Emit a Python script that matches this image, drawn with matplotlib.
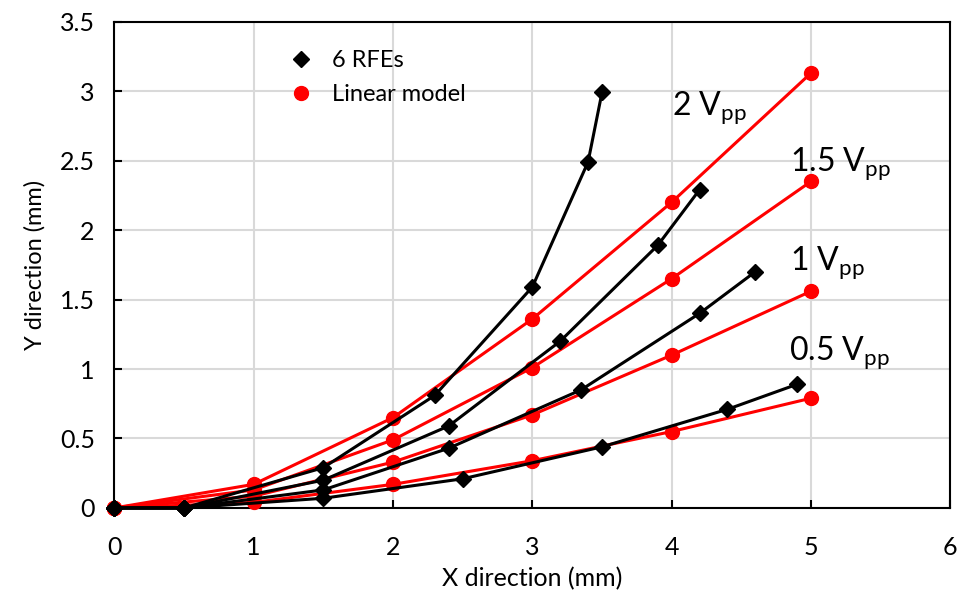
import matplotlib
matplotlib.use("Agg")
import matplotlib.pyplot as plt
from matplotlib.lines import Line2D

# linear model (red), one row per drive voltage
model_x = [0, 1, 2, 3, 4, 5]
model_2v = [0, 0.17, 0.65, 1.36, 2.20, 3.13]
model_15v = [0, 0.13, 0.49, 1.01, 1.65, 2.35]
model_1v = [0, 0.085, 0.33, 0.67, 1.10, 1.56]
model_05v = [0, 0.04, 0.17, 0.34, 0.55, 0.79]

# measured trajectories of the 6 RFEs (black)
rfe_2v_x = [0, 0.5, 1.5, 2.3, 3.0, 3.4, 3.5]
rfe_2v_y = [0, 0, 0.29, 0.81, 1.59, 2.49, 2.99]
rfe_15v_x = [0, 0.5, 1.5, 2.4, 3.2, 3.9, 4.2]
rfe_15v_y = [0, 0, 0.20, 0.59, 1.20, 1.89, 2.29]
rfe_1v_x = [0, 0.5, 1.5, 2.4, 3.35, 4.2, 4.6]
rfe_1v_y = [0, 0, 0.13, 0.43, 0.85, 1.40, 1.70]
rfe_05v_x = [0, 0.5, 1.5, 2.5, 3.5, 4.4, 4.9]
rfe_05v_y = [0, 0, 0.07, 0.21, 0.44, 0.71, 0.89]

labels = [r"2 V$_{\mathrm{pp}}$", r"1.5 V$_{\mathrm{pp}}$",
          r"1 V$_{\mathrm{pp}}$", r"0.5 V$_{\mathrm{pp}}$"]
label_pos = [(4.00, 2.82), (4.85, 2.42), (4.85, 1.71), (4.84, 1.06)]

plt.rcParams['font.family'] = ['Lato', 'DejaVu Sans']
plt.rcParams['mathtext.fontset'] = 'custom'
plt.rcParams['mathtext.rm'] = 'Lato'

fig = plt.figure(figsize=(9.6, 6.08), dpi=100)
ax = fig.add_axes([0.119, 0.1645, 0.871, 0.8])

for ys in [model_2v, model_15v, model_1v, model_05v]:
    ax.plot(model_x, ys, color='#ff0000', lw=2.2, marker='o', ms=10,
            clip_on=False, zorder=3)

for xs, ys in [(rfe_2v_x, rfe_2v_y), (rfe_15v_x, rfe_15v_y),
               (rfe_1v_x, rfe_1v_y), (rfe_05v_x, rfe_05v_y)]:
    ax.plot(xs, ys, color='black', lw=2.2, marker='D', ms=8.5,
            clip_on=False, zorder=4)

for txt, (tx, ty) in zip(labels, label_pos):
    ax.text(tx, ty, txt, fontsize=23, ha='left', va='baseline')

ax.set_xlim(0, 6)
ax.set_ylim(0, 3.5)
ax.set_xticks(range(0, 7))
ax.set_yticks([0, 0.5, 1, 1.5, 2, 2.5, 3, 3.5])
ax.set_yticklabels(['0', '0.5', '1', '1.5', '2', '2.5', '3', '3.5'])
ax.grid(True, color='#d9d9d9', lw=1.5)
ax.set_axisbelow(True)
for s in ax.spines.values():
    s.set_linewidth(1.5)
ax.tick_params(direction='in', length=6, width=1.5, labelsize=18)
ax.tick_params(axis='x', pad=20)
ax.tick_params(axis='y', pad=14)
ax.set_xlabel('X direction (mm)', fontsize=18, labelpad=6)
ax.set_ylabel('Y direction (mm)', fontsize=17, labelpad=10)

handles = [Line2D([], [], color='black', marker='D', ls='none', ms=8.5),
           Line2D([], [], color='#ff0000', marker='o', ls='none', ms=10)]
ax.legend(handles, ['6 RFEs', 'Linear model'], loc='upper left',
          bbox_to_anchor=(0.17, 0.985), frameon=False, fontsize=17,
          handletextpad=0.3, labelspacing=0.55)

fig.savefig('out.png', dpi=100)
